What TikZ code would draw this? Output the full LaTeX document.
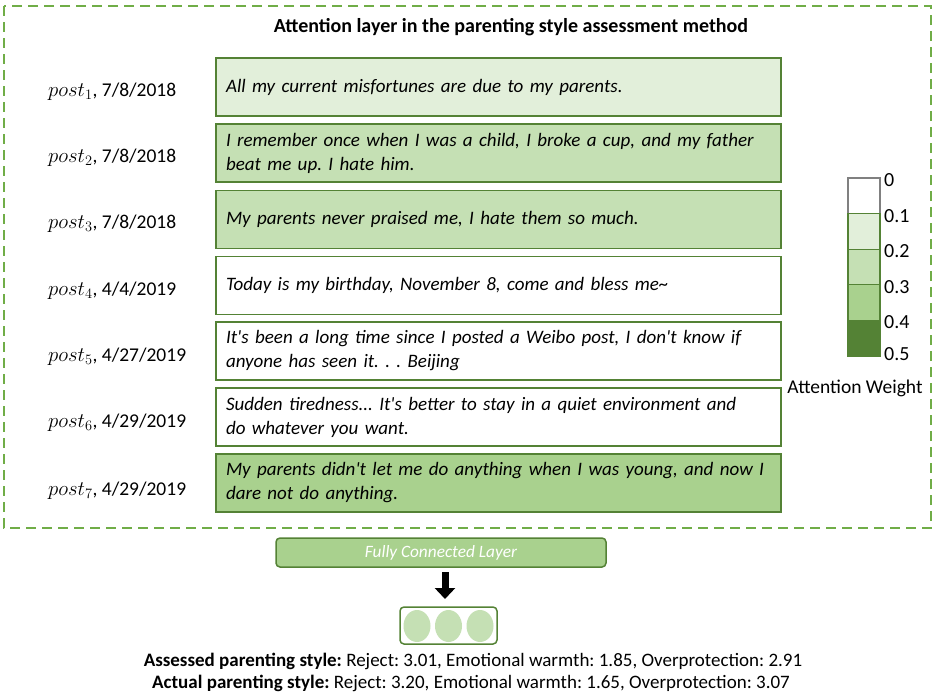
\documentclass[tikz,border=0pt]{standalone}
\usepackage{fontspec}
\usepackage{amsmath}
\setmainfont{Carlito}
\usetikzlibrary{arrows.meta,shapes.geometric}
\frenchspacing
\hyphenpenalty=10000
\exhyphenpenalty=10000

\definecolor{wlow}{HTML}{E2EFDA}
\definecolor{wmid}{HTML}{C5E0B4}
\definecolor{whigh}{HTML}{A9D18E}
\definecolor{wtop}{HTML}{548235}
\definecolor{dashgreen}{HTML}{70AD47}

\newcommand{\postlab}[1]{{\fontsize{21.5}{24}\selectfont$post_{#1}$}}
\newcommand{\apos}{\textquotesingle}

\begin{document}
\begin{tikzpicture}[x=1pt,y=-1pt]

      \useasboundingbox (0,0) rectangle (935,699);

      % outer attention frame
      \draw[dashgreen,line width=2pt,dash pattern=on 10pt off 6pt] (4,6) rectangle (931,528);
      \node[font=\fontsize{20}{22}\selectfont\bfseries] (title) at (511,27) {Attention layer in the parenting style assessment method};

      \begin{scope}[every node/.style={draw=wtop,line width=1.8pt,minimum width=565pt,minimum height=58pt,
          text width=545pt,inner xsep=10pt,align=left,font=\fontsize{19}{24}\selectfont\itshape}]
        \node[fill=wlow] (p1) at (498.5,87) {All my current misfortunes are due to my parents.};
        \node[fill=wmid] (p2) at (498.5,153) {I remember once when I was a child, I broke a cup, and my father beat me up. I hate him.};
        \node[fill=wmid] (p3) at (498.5,219.5) {My parents never praised me, I hate them so much.};
        \node[fill=white] (p4) at (498.5,285.5) {Today is my birthday, November 8, come and bless me\textasciitilde};
        \node[fill=white] (p5) at (498.5,351) {It\apos s been a long time since I posted a Weibo post, I don\apos t know if anyone has seen it. . . Beijing};
        \node[fill=white] (p6) at (498.5,417) {Sudden tiredness... It\apos s better to stay in a quiet environment and\\ do whatever you want.};
        \node[fill=whigh] (p7) at (498.5,483) {My parents didn\apos t let me do anything when I was young, and now I dare not do anything.};
      \end{scope}

      \begin{scope}[every node/.style={anchor=base west,inner sep=0pt,font=\fontsize{19.5}{22}\selectfont}]
        \node (l1) at (48,96) {\postlab{1}, 7/8/2018};
        \node (l2) at (48,162) {\postlab{2}, 7/8/2018};
        \node (l3) at (48,228) {\postlab{3}, 7/8/2018};
        \node (l4) at (48,295) {\postlab{4}, 4/4/2019};
        \node (l5) at (48,361) {\postlab{5}, 4/27/2019};
        \node (l6) at (48,427) {\postlab{6}, 4/29/2019};
        \node (l7) at (48,495) {\postlab{7}, 4/29/2019};
      \end{scope}

      % legend
      \begin{scope}[every node/.style={draw=wtop,line width=1.2pt,minimum width=32pt,minimum height=35.6pt,inner sep=0pt}]
        \node[fill=white,draw=gray] (c1) at (864,195.8) {};
        \node[fill=wlow] (c2) at (864,231.4) {};
        \node[fill=wmid] (c3) at (864,267) {};
        \node[fill=whigh] (c4) at (864,302.6) {};
        \node[fill=wtop] (c5) at (864,338.2) {};
      \end{scope}

      \begin{scope}[every node/.style={anchor=west,inner sep=0pt,font=\fontsize{20}{22}\selectfont}]
        \node (t0) at (884,180) {0};
        \node (t1) at (884,215.6) {0.1};
        \node (t2) at (884,251.2) {0.2};
        \node (t3) at (884,286.8) {0.3};
        \node (t4) at (884,322.4) {0.4};
        \node (t5) at (884,354) {0.5};
      \end{scope}
      \node[font=\fontsize{19.5}{22}\selectfont] (legend) at (855,388) {Attention Weight};

      % output part
      \node[draw=wtop,fill=whigh,line width=1.5pt,rounded corners=4pt,minimum width=330pt,minimum height=29pt,
        text=white,font=\fontsize{17.3}{20}\selectfont\itshape] (fc) at (441,552.5) {Fully Connected Layer};
      \node[draw=wtop,fill=white,line width=1.5pt,rounded corners=4pt,minimum width=97pt,minimum height=37pt] (out) at (448.5,625.5) {};

      \begin{scope}[every node/.style={ellipse,fill=wmid,minimum width=27pt,minimum height=32pt,inner sep=0pt}]
        \node (o1) at (417,626) {};
        \node (o2) at (448.5,626) {};
        \node (o3) at (480,626) {};
      \end{scope}

      \coordinate (atop) at (445,572);
      \coordinate (abot) at (445,599);
      \draw[-{Triangle[width=20pt,length=11pt]},line width=7pt] (atop) -- (abot);

      \begin{scope}[every node/.style={font=\fontsize{19}{22}\selectfont}]
        \node (assessed) at (473,661) {\textbf{Assessed parenting style:} Reject: 3.01, Emotional warmth: 1.85, Overprotection: 2.91};
        \node (actual) at (471,683) {\textbf{Actual parenting style:} Reject: 3.20, Emotional warmth: 1.65, Overprotection: 3.07};
      \end{scope}

    \end{tikzpicture}
\end{document}
